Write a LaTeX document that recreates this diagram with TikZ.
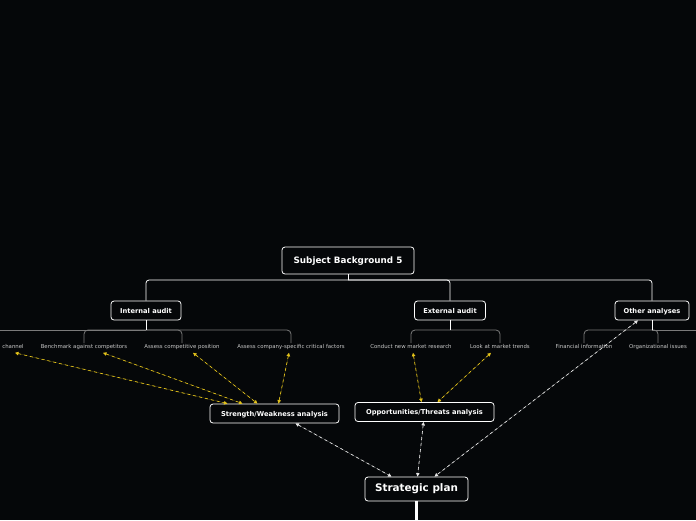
\documentclass[tikz,border=0pt]{standalone}
\usepackage{fontspec}
\setmainfont{DejaVu Sans}
\usetikzlibrary{arrows.meta, positioning, calc}

\definecolor{bgdark}{HTML}{050709}
\definecolor{linkyellow}{HTML}{E3C21A}
\definecolor{branchgray}{HTML}{7A7A7A}

\begin{document}
\begin{tikzpicture}[
    x=1pt, y=-1pt,
    topic/.style={rectangle, draw=white, fill=bgdark, line width=0.8pt, rounded corners=3pt, text=white, font=\fontsize{6.7}{7}\selectfont\bfseries, minimum height=19pt, text height=0.75em, text depth=0.2em, align=center},
    central/.style={topic, font=\fontsize{8.8}{10}\selectfont\bfseries, minimum height=27pt, minimum width=132pt},
    plan/.style={topic, font=\fontsize{10.4}{11}\selectfont\bfseries, minimum height=24pt, minimum width=103pt},
    leaf/.style={text=white!78!black, font=\fontsize{5.4}{6}\selectfont, inner sep=1pt, text height=4pt, text depth=1.2pt},
    branch/.style={draw=white, line width=0.8pt, rounded corners=3pt},
    twig/.style={draw=branchgray, line width=0.8pt, rounded corners=4pt},
    ylink/.style={{Triangle[width=3.5pt,length=3.5pt]}-{Triangle[width=3.5pt,length=3.5pt]}, draw=linkyellow, fill=linkyellow, dashed, dash pattern=on 3pt off 3pt, line width=0.7pt},
    wlink/.style={ylink, draw=white!90!black, fill=white!90!black}
]

% background and frame
\fill[bgdark] (0,0) rectangle (696,520);
\useasboundingbox (0,0) rectangle (696,520);
\clip (0,0) rectangle (696,520);

% main topics
\node[central] (root) at (348,260.5) {Subject Background 5};
\node[topic, minimum width=70pt] (internal) at (146,310.5) {Internal audit};
\node[topic, minimum width=71pt] (external) at (450,310.5) {External audit};
\node[topic, minimum width=74pt] (other) at (652,310.5) {Other analyses};

\coordinate (rootbus) at (348,280);
\draw[branch] (root.south) -- (rootbus);
\draw[branch] (rootbus) -| (internal.north);
\draw[branch] (rootbus) -| (external.north);
\draw[branch] (rootbus) -| (other.north);

% sub topics
\node[leaf] (channel) at (13,347) {channel};
\node[leaf] (bench) at (84,347) {Benchmark against competitors};
\node[leaf] (compos) at (182,347) {Assess competitive position};
\node[leaf] (critical) at (291,347) {Assess company-specific critical factors};
\node[leaf] (research) at (411,347) {Conduct new market research};
\node[leaf] (trends) at (500,347) {Look at market trends};
\node[leaf] (financial) at (584,347) {Financial information};
\node[leaf] (orgissues) at (658,347) {Organizational issues};

\coordinate (intbus) at (146,330);
\coordinate (extbus) at (450,330);
\coordinate (othbus) at (652,330);
\coordinate (leftedge) at (-4,330);
\coordinate (rightedge) at (700,330);

\draw[twig] (intbus) -- (leftedge);
\draw[twig] (intbus) -| (bench.north);
\draw[twig] (intbus) -| (compos.north);
\draw[twig] (intbus) -| (critical.north);
\draw[twig] (extbus) -| (research.north);
\draw[twig] (extbus) -| (trends.north);
\draw[twig] (othbus) -| (financial.north);
\draw[twig] (othbus) -| (orgissues.north);
\draw[twig] (othbus) -- (rightedge);
\draw[branch] (internal.south) -- (intbus);
\draw[branch] (external.south) -- (extbus);
\draw[branch] (other.south) -- (othbus);

% analyses
\node[topic, minimum width=129pt] (strength) at (274.5,413.5) {Strength/Weakness analysis};
\node[topic, minimum width=139pt] (opport) at (424.5,412) {Opportunities/Threats analysis};
\node[plan] (strategy) at (416.5,489) {Strategic plan};

\draw[white, line width=3pt] (strategy.south) -- ++(0,25);

% relationships
\draw[ylink] ($(channel.south)+(2,2)$) -- ($(strength.north)+(-47,0)$);
\draw[ylink] ($(bench.south)+(19,2)$) -- ($(strength.north)+(-32,0)$);
\draw[ylink] ($(compos.south)+(11,2)$) -- ($(strength.north)+(-17,0)$);
\draw[ylink] ($(critical.south)+(-2,2)$) -- ($(strength.north)+(4,0)$);
\draw[ylink] ($(research.south)+(2,2)$) -- ($(opport.north)+(-3,0)$);
\draw[ylink] ($(trends.south)+(-9,2)$) -- ($(opport.north)+(13,0)$);

\draw[wlink] ($(strength.south)+(21,0)$) -- ($(strategy.north)+(-25,0)$);
\draw[wlink] ($(opport.south)+(-1,0)$) -- ($(strategy.north)+(1,0)$);
\draw[wlink] ($(other.south)+(-14,0)$) -- ($(strategy.north)+(18,0)$);

\end{tikzpicture}
\end{document}
